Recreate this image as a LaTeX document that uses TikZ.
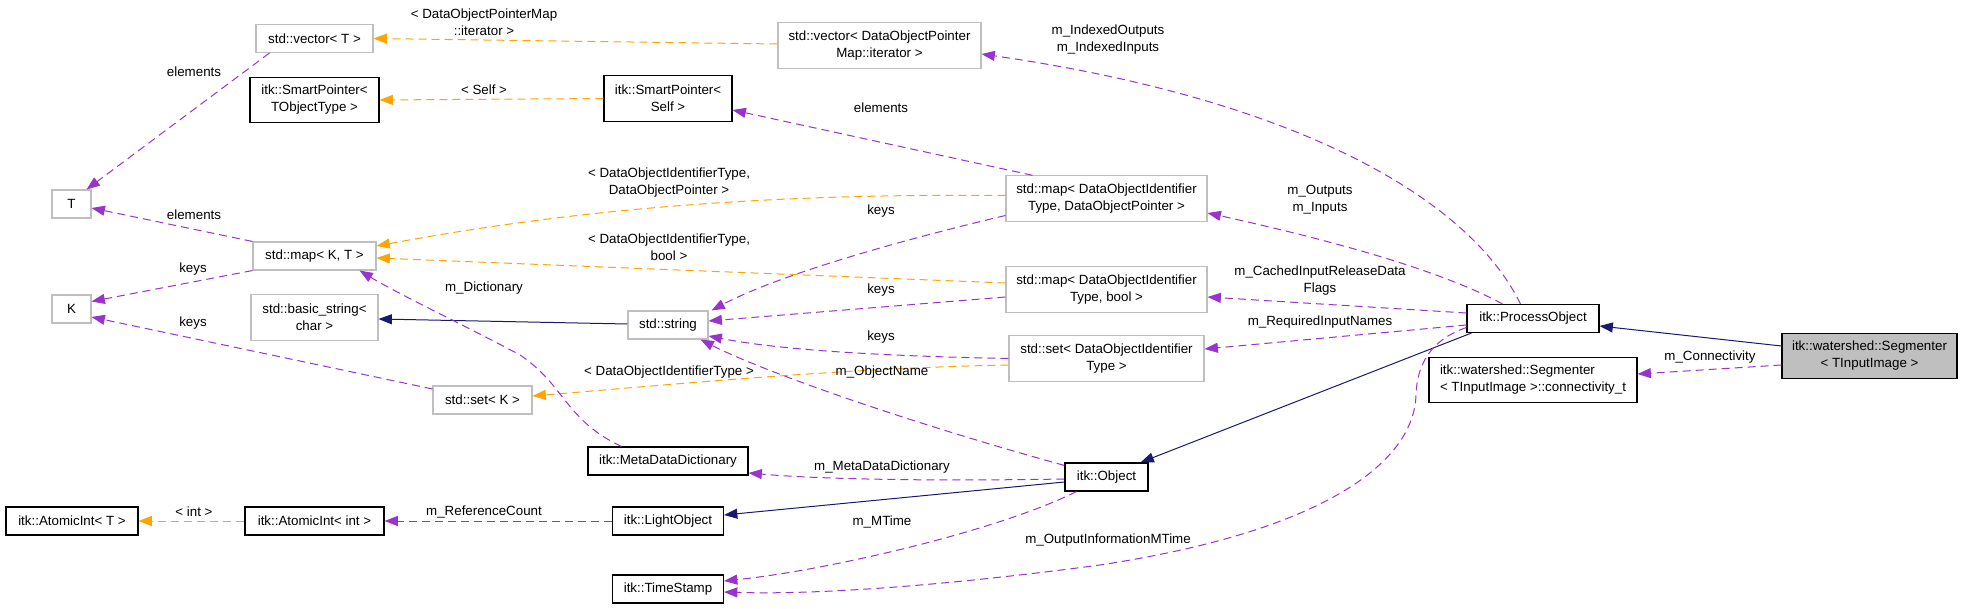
\documentclass[tikz,border=0pt]{standalone}
\usepackage{fontspec}
\setmainfont{Liberation Sans}
\usetikzlibrary{arrows.meta,calc}

\definecolor{dgPurple}{HTML}{9A32CD}
\definecolor{dgOrange}{HTML}{FFA500}
\definecolor{dgNavy}{HTML}{191970}
\definecolor{dgGrey}{HTML}{BFBFBF}

\begin{document}
\begin{tikzpicture}[
  x=0.75pt, y=-0.75pt,
  font=\fontsize{10}{12.75}\selectfont,
  cls/.style={draw=black, fill=white, align=center, inner sep=0pt,
              line width=0.8pt, minimum height=21pt},
  ext/.style={cls, draw=dgGrey},
  wd/.style={minimum width=#1*0.75pt},
  two/.style={minimum height=34pt},
  lbl/.style={align=center, inner sep=0pt},
  rel/.style={-{Triangle[length=10pt,width=7.5pt]}, line width=0.75pt,
              dash pattern=on 6pt off 3.75pt},
  mem/.style={rel, dgPurple},
  tpl/.style={rel, dgOrange},
  inh/.style={-{Triangle[length=10pt,width=7.5pt]}, line width=0.75pt, dgNavy}
]
  \fill[white] (0,0) rectangle (1963,609);
  \useasboundingbox (0,0) rectangle (1963,609);

  % ---- left column ----
  \node[ext, wd=39] (T) at (71.5,204) {T};
  \node[ext, wd=39] (K) at (71.5,309) {K};
  \node[cls, wd=132] (aiT) at (72,521) {itk::AtomicInt< T >};

  % ---- second column ----
  \node[ext, wd=117] (vecT) at (314.5,38.5) {std::vector< T >};
  \node[cls, wd=129, two] (spTOT) at (314.5,100) {itk::SmartPointer<\\TObjectType >};
  \node[ext, wd=123] (mapKT) at (314.5,256) {std::map< K, T >};
  \node[ext, wd=127, two] (bstr) at (314.5,317.5) {std::basic\_string<\\char >};
  \node[cls, wd=139] (aiInt) at (314.5,521) {itk::AtomicInt< int >};
  \node[ext, wd=99] (setK) at (482.5,400) {std::set< K >};

  % ---- third column ----
  \node[cls, wd=128, two] (spSelf) at (668,98.5) {itk::SmartPointer<\\Self >};
  \node[ext, wd=80] (str) at (668,325) {std::string};
  \node[cls, wd=160] (mdd) at (668,461) {itk::MetaDataDictionary};
  \node[cls, wd=111] (lobj) at (668,521) {itk::LightObject};
  \node[cls, wd=111] (tstamp) at (668,589) {itk::TimeStamp};

  % ---- fourth column ----
  \node[ext, wd=203, two] (vecIt) at (879.5,45.5)
        {std::vector< DataObjectPointer\\Map::iterator >};
  \node[ext, wd=201, two] (mapDOP) at (1106.5,198.5)
        {std::map< DataObjectIdentifier\\Type, DataObjectPointer >};
  \node[ext, wd=201, two] (mapBool) at (1106.5,289.5)
        {std::map< DataObjectIdentifier\\Type, bool >};
  \node[ext, wd=195, two] (setDOIT) at (1106.5,358.5)
        {std::set< DataObjectIdentifier\\Type >};
  \node[cls, wd=83] (obj) at (1106.5,477) {itk::Object};

  % ---- right side ----
  \node[cls, wd=132] (pobj) at (1533,318.5) {itk::ProcessObject};
  \node[cls, wd=208, two, align=left] (conn) at (1533,380)
        {itk::watershed::Segmenter\\< TInputImage >::connectivity\_t};
  \node[cls, wd=175, two, fill=dgGrey] (seg) at (1869.5,356)
        {itk::watershed::Segmenter\\< TInputImage >};

  % ---- inheritance ----
  \draw[inh] ($(seg.west)+(0,-10)$) -- ($(pobj.east)+(0,7.5)$);
  \draw[inh] ($(pobj.south west)+(5,0)$) -- ($(obj.north east)+(-8,0)$);
  \draw[inh] ($(obj.west)+(0,5)$) -- ($(lobj.east)+(0,-6)$);
  \draw[inh] ($(str.west)+(0,-1)$) -- ($(bstr.east)+(0,1.5)$);

  % ---- template arguments ----
  \draw[tpl] ($(vecIt.west)+(0,-1.5)$) -- (vecT.east);
  \draw[tpl] (spSelf.west) -- (spTOT.east);
  \draw[tpl] ($(mapDOP.west)+(0,-3)$) .. controls (750,193) and (560,212) .. ($(mapKT.east)+(0,-10)$);
  \draw[tpl] ($(mapBool.west)+(0,-6.5)$) -- ($(mapKT.east)+(0,2)$);
  \draw[tpl] ($(setDOIT.west)+(0,6.5)$) .. controls (850,368) and (700,382) .. ($(setK.east)+(0,-4)$);
  \draw[tpl] (aiInt.west) -- (aiT.east);

  % ---- members ----
  \draw[mem] ($(vecT.south west)+(14,0)$) -- ($(T.north east)+(-5,0)$);
  \draw[mem] (mapKT.north west) -- ($(T.east)+(0,4)$);
  \draw[mem] (mapKT.south west) -- ($(K.north east)+(0,7)$);
  \draw[mem] ($(setK.west)+(0,-11)$) -- ($(K.east)+(0,8)$);
  \draw[mem] ($(mapDOP.north west)+(27,0)$) -- ($(spSelf.east)+(0,11.5)$);
  \draw[mem] ($(mapDOP.west)+(0,17)$) .. controls (860,250) and (765,282) .. ($(str.north east)+(3,0)$);
  \draw[mem] ($(mapBool.west)+(0,7.5)$) -- ($(str.east)+(0,-4)$);
  \draw[mem] ($(setDOIT.west)+(0,0)$) .. controls (880,356) and (780,350) .. ($(str.east)+(0,11)$);
  \draw[mem] ($(obj.north west)+(0,3)$) .. controls (900,420) and (760,370) .. ($(str.south east)+(-8,0)$);
  \draw[mem] ($(mdd.north west)+(34,0)$) .. controls (565,420) and (565,385) .. (520,355)
        .. controls (470,328) and (400,295) .. ($(mapKT.south east)+(-17,0)$);
  \draw[mem] ($(obj.west)+(0,2)$) .. controls (950,481) and (830,480) .. ($(mdd.east)+(0,12)$);
  \draw[mem] (lobj.west) -- (aiInt.east);
  \draw[mem] ($(obj.south west)+(12,0)$) .. controls (1000,530) and (830,570) .. ($(tstamp.east)+(0,-8)$);
  \draw[mem] ($(pobj.west)+(0,9)$) .. controls (1430,340) and (1417,365) .. (1416,395)
        .. controls (1414,460) and (1330,530) .. (1100,565)
        .. controls (950,585) and (820,595) .. ($(tstamp.east)+(0,3)$);
  \draw[mem] ($(pobj.north west)+(54,0)$) .. controls (1470,200) and (1300,100) .. ($(vecIt.east)+(0,8.5)$);
  \draw[mem] ($(pobj.north west)+(36,0)$) .. controls (1440,270) and (1330,240) .. ($(mapDOP.east)+(0,14.5)$);
  \draw[mem] ($(pobj.west)+(0,-5.5)$) -- ($(mapBool.east)+(0,7.5)$);
  \draw[mem] ($(pobj.west)+(0,6.5)$) -- ($(setDOIT.east)+(0,-9.5)$);
  \draw[mem] ($(seg.west)+(0,9)$) -- ($(conn.east)+(0,-6)$);

  % ---- edge labels ----
  \node[lbl] (lElemVec) at (194,72) {elements};
  \node[lbl] (lElemMap) at (194,215) {elements};
  \node[lbl] (lKeysMap) at (193,269) {keys};
  \node[lbl] (lKeysSet) at (193,323) {keys};
  \node[lbl] (lIter) at (484,22) {< DataObjectPointerMap\\::iterator >};
  \node[lbl] (lSelf) at (484,90) {< Self >};
  \node[lbl] (lDOP) at (669,183) {< DataObjectIdentifierType,\\DataObjectPointer >};
  \node[lbl] (lBool) at (669,247) {< DataObjectIdentifierType,\\bool >};
  \node[lbl] (lDOIT) at (669,372) {< DataObjectIdentifierType >};
  \node[lbl] (lDict) at (484,288) {m\_Dictionary};
  \node[lbl] (lRef) at (484,512) {m\_ReferenceCount};
  \node[lbl] (lInt) at (194,512) {< int >};
  \node[lbl] (lElemSP) at (881,108) {elements};
  \node[lbl] (lKeysDOP) at (881,211) {keys};
  \node[lbl] (lKeysBool) at (881,290) {keys};
  \node[lbl] (lKeysDOIT) at (881,337) {keys};
  \node[lbl] (lName) at (882,372) {m\_ObjectName};
  \node[lbl] (lMDD) at (882,467) {m\_MetaDataDictionary};
  \node[lbl] (lMTime) at (882,522) {m\_MTime};
  \node[lbl] (lOutMTime) at (1108,540) {m\_OutputInformationMTime};
  \node[lbl] (lIndexed) at (1108,39.5) {m\_IndexedOutputs\\m\_IndexedInputs};
  \node[lbl] (lInOut) at (1320,200) {m\_Outputs\\m\_Inputs};
  \node[lbl] (lCached) at (1320,280.5) {m\_CachedInputReleaseData\\Flags};
  \node[lbl] (lReq) at (1320,322) {m\_RequiredInputNames};
  \node[lbl] (lConn) at (1710,357) {m\_Connectivity};
\end{tikzpicture}
\end{document}
